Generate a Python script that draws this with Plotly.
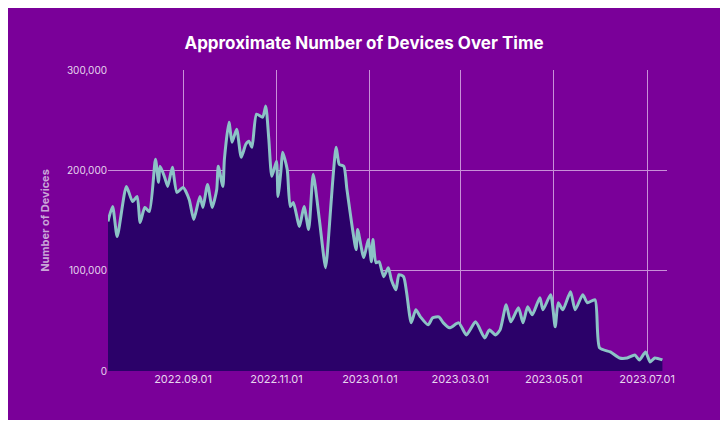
import pandas as pd
import plotly.graph_objects as go

start_date = "2022-07-14"
day_offsets = [0,3,6,12,16,19,21,24,27,31,33,34,37,39,42,45,49,53,56,60,62,65,68,71,72,75,76,79,81,84,87,90,92,94,97,101,103,105,107,110,111,113,114,117,119,121,125,128,131,134,138,142,143,149,151,154,156,162,163,167,170,172,173,175,
               177,180,183,185,188,190,193,195,198,201,204,209,212,216,219,223,229,234,240,246,249,253,256,260,263,268,271,274,277,282,284,289,292,294,297,302,305,310,313,318,321,328,334,339,344,347,351,354,357,362]
devices = [149,164,134,184,169,174,148,163,159,211,188,204,193,184,203,178,183,171,151,174,163,186,163,181,204,184,211,248,228,241,213,226,229,223,256,253,264,231,194,209,174,201,218,201,164,168,144,164,141,196,151,103,114,223,206,204,181,121,141,113,131,109,131,108,
           109,94,103,91,81,96,94,78,48,61,54,46,53,54,48,43,48,36,49,33,41,36,41,66,49,63,48,64,56,73,61,76,44,68,61,79,61,76,68,71,23,19,13,13,16,11,19,9,13,11]

dates = pd.Timestamp(start_date) + pd.to_timedelta(day_offsets, unit="D")
values = [v * 1000 for v in devices]

fig = go.Figure(go.Scatter(
    x=dates, y=values, mode="lines", fill="tozeroy",
    line=dict(color="#8cc3c6", width=3, shape="spline", smoothing=0.6),
    fillcolor="#2b0169"))

fig.update_layout(
    width=712, height=412,
    paper_bgcolor="#7a0099", plot_bgcolor="#7a0099",
    margin=dict(l=100, r=53, t=62, b=49),
    title=dict(text="<b>Approximate Number of Devices Over Time</b>", x=0.5, y=0.93,
               xanchor="center", font=dict(family="Inter", size=17, color="white")),
    showlegend=False,
    font=dict(family="Inter", color="#e6d6ee", size=10),
)
fig.update_xaxes(range=["2022-07-14", "2023-07-14"], tick0="2022-09-01", dtick="M2",
                 tickformat="%Y.%m.%d", showgrid=True, gridcolor="#c890d8", gridwidth=1,
                 zeroline=False, showline=False, ticks="", tickfont=dict(size=11))
fig.update_yaxes(range=[0, 300000], dtick=100000, tickformat=",", showgrid=True,
                 gridcolor="#c890d8", zeroline=False, ticks="",
                 title=dict(text="<b>Number of Devices</b>", font=dict(size=11, color="#c9a6d8")),
                 tickfont=dict(size=10))
fig.write_html("out.html")
